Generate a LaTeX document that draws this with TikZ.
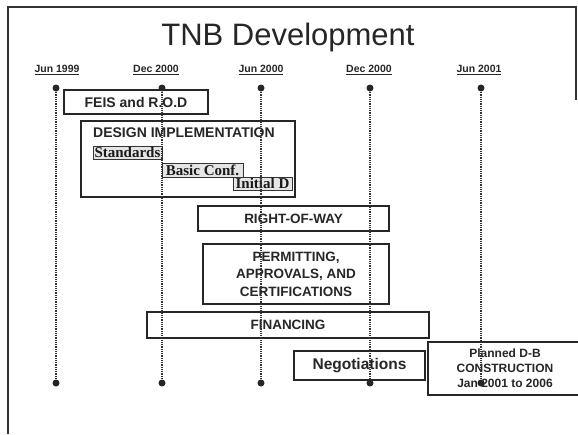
\documentclass[tikz,border=0pt]{standalone}
\usepackage{fontspec}
\setmainfont{Liberation Sans}
\newfontfamily\serifface{Liberation Serif}
\begin{document}
\begin{tikzpicture}[x=1pt,y=-1pt,
  bar/.style={draw=black!85, line width=1.2pt, fill=white, inner sep=0pt, text=black!85},
  sbox/.style={draw=black!80, line width=0.9pt, fill=black!10, inner sep=0pt, text=black!90,
    font=\serifface\bfseries\fontsize{15}{15}\selectfont},
  datelab/.style={font=\bfseries\fontsize{10.5}{11}\selectfont, text=black!85, inner sep=0pt},
  tdot/.style={circle, fill=black!85, minimum size=7pt, inner sep=0pt},
  vline/.style={black!80, line width=1.3pt, dash pattern=on 0.9pt off 0.9pt}
]
\useasboundingbox (0,0) rectangle (578,434);
\begin{scope}
\clip (0,0) rectangle (578,434);
\draw[line width=1.6pt, black!80] (8,434) -- (8,7) -- (576,7) -- (576,100);

\node[font=\fontsize{31}{31}\selectfont, text=black!85] (title) at (288,37) {TNB Development};

% date labels
\node[datelab] (d1) at (57,70) {\underline{Jun 1999}};
\node[datelab] (d2) at (156,70) {\underline{Dec 2000}};
\node[datelab] (d3) at (261,70) {\underline{Jun 2000}};
\node[datelab] (d4) at (369,70) {\underline{Dec 2000}};
\node[datelab] (d5) at (479,70) {\underline{Jun 2001}};

% boxes
\node[bar, minimum width=144pt, minimum height=24pt, font=\bfseries\fontsize{14}{14}\selectfont] (feis) at (136,102) {FEIS and R.O.D};

\node[bar, minimum width=214pt, minimum height=76pt] (design) at (188,159) {};
\node[anchor=west, inner sep=0pt, text=black!85, font=\bfseries\fontsize{14}{14}\selectfont] (designtxt) at (93,133) {DESIGN IMPLEMENTATION};
\node[sbox, minimum width=69pt, minimum height=13pt] (std) at (127.5,152.5) {Standards};
\node[sbox, minimum width=81pt, minimum height=14pt] (basic) at (202.5,170) {Basic Conf.};
\node[sbox, minimum width=59pt, minimum height=13pt] (initd) at (262.5,183.5) {Initial D};

\node[bar, minimum width=191pt, minimum height=25pt, font=\bfseries\fontsize{13.5}{14}\selectfont] (row) at (293.5,218.5) {RIGHT-OF-WAY};

\node[bar, minimum width=186pt, minimum height=60pt, align=center, font=\bfseries\fontsize{13.5}{17.5}\selectfont] (perm) at (296,274) {PERMITTING,\\APPROVALS, AND\\CERTIFICATIONS};

\node[bar, minimum width=282pt, minimum height=26pt, font=\bfseries\fontsize{13.5}{14}\selectfont] (fin) at (288,325) {FINANCING};

\node[bar, minimum width=131pt, minimum height=29pt, font=\bfseries\fontsize{15.5}{16}\selectfont] (neg) at (359.5,365.5) {Negotiations};

\node[bar, minimum width=160pt, minimum height=53pt] (plan) at (508,368.5) {};
\node[align=center, inner sep=0pt, text=black!85, font=\bfseries\fontsize{12}{15}\selectfont] (plantxt) at (505,368) {Planned D-B\\CONSTRUCTION\\Jan 2001 to 2006};

% timeline dots and dotted lines
\foreach \i/\x in {1/56,2/162,3/261,4/370,5/481}{
  \node[tdot] (t\i) at (\x,88) {};
  \node[tdot] (b\i) at (\x,383) {};
  \draw[vline] (t\i) -- (b\i);
}
\end{scope}
\end{tikzpicture}
\end{document}
